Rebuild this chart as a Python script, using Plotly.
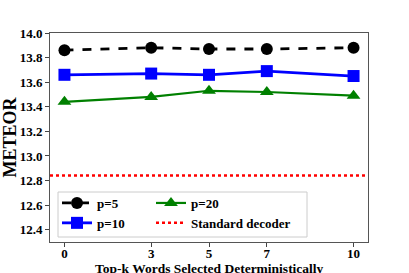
import plotly.graph_objects as go

topk = [0, 3, 5, 7, 10]
p5 = [13.86, 13.88, 13.87, 13.87, 13.88]
p10 = [13.66, 13.67, 13.66, 13.69, 13.65]
p20 = [13.44, 13.48, 13.53, 13.52, 13.49]
standard = 12.84
yticks = [12.4, 12.6, 12.8, 13.0, 13.2, 13.4, 13.6, 13.8, 14.0]
xlabel = "Top-k Words Selected Deterministically"
ylabel = "METEOR"

FONT = "Liberation Serif"
L, R, T, B = 50, 41, 33, 31
W, H = 409, 273
PW, PH = W - L - R, H - T - B


def px_x(x):
    return (x - L) / PW


def px_y(y):
    return (H - B - y) / PH


fig = go.Figure()
fig.add_trace(go.Scatter(x=topk, y=p5, name="p=5", mode="lines+markers",
                         line=dict(color="black", width=2.8, dash="dash"),
                         marker=dict(symbol="circle", size=12, color="black"),
                         legend="legend"))
fig.add_trace(go.Scatter(x=topk, y=p10, name="p=10", mode="lines+markers",
                         line=dict(color="blue", width=2.8),
                         marker=dict(symbol="square", size=12, color="blue"),
                         legend="legend"))
fig.add_trace(go.Scatter(x=topk, y=p20, name="p=20", mode="lines+markers",
                         line=dict(color="green", width=2.2),
                         marker=dict(symbol="triangle-up", size=12, color="green"),
                         legend="legend2"))
fig.add_trace(go.Scatter(x=[-0.5, 10.5], y=[standard, standard], name="Standard decoder",
                         mode="lines", line=dict(color="red", width=2.5, dash="dot"),
                         legend="legend2"))

legend_common = dict(orientation="v", xanchor="left", yanchor="top",
                     bgcolor="rgba(0,0,0,0)", borderwidth=0,
                     font=dict(family=FONT, size=13, weight="bold"),
                     tracegroupgap=0, itemwidth=30)

fig.update_layout(
    width=W, height=H,
    margin=dict(l=L, r=R, t=T, b=B),
    plot_bgcolor="white", paper_bgcolor="white",
    font=dict(family=FONT, size=13, color="black", weight="bold"),
    showlegend=True,
    legend=dict(x=px_x(57), y=px_y(188), **legend_common),
    legend2=dict(x=px_x(151), y=px_y(188), **legend_common),
    shapes=[dict(type="rect", xref="paper", yref="paper",
                 x0=px_x(58), x1=px_x(307), y0=px_y(237), y1=px_y(192),
                 fillcolor="white", line=dict(color="#cccccc", width=1),
                 layer="above")],
    annotations=[dict(text=xlabel, xref="paper", yref="paper",
                      x=px_x(209), y=px_y(268.5), xanchor="center", yanchor="middle",
                      showarrow=False,
                      font=dict(family=FONT, size=13.5, weight="bold"))],
)
fig.update_xaxes(range=[-0.5, 10.5], tickvals=topk, ticks="outside", ticklen=4,
                 ticklabelstandoff=-5, automargin=False,
                 showgrid=False, zeroline=False, showline=True, linecolor="#555555",
                 linewidth=1, mirror=True,
                 tickfont=dict(family=FONT, size=13, weight="bold"))
fig.update_yaxes(range=[12.3, 14.0], tickvals=yticks, tickformat=".1f", ticks="outside",
                 ticklen=4, automargin=False, showgrid=False, zeroline=False, showline=True,
                 linecolor="#555555", linewidth=1, mirror=True,
                 tickfont=dict(family=FONT, size=13, weight="bold"),
                 title=dict(text=ylabel,
                            font=dict(family=FONT, size=18, weight="bold")))

fig.write_html("out.html", post_script="document.body.style.margin='0px';",
               config={"displayModeBar": False})
